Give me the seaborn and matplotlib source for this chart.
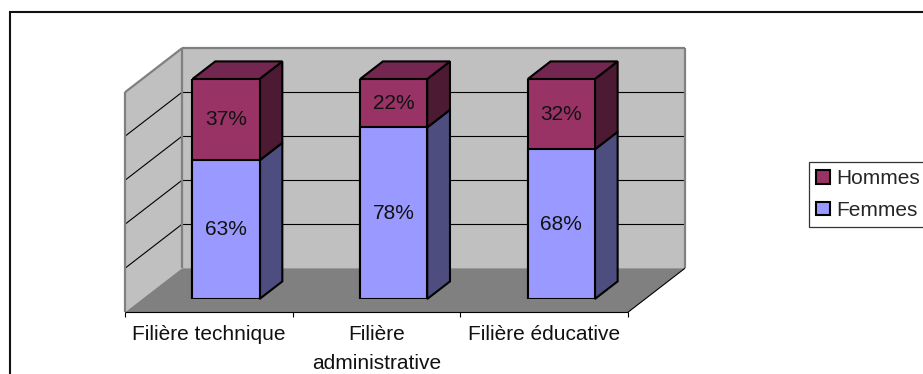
import matplotlib
matplotlib.use("Agg")
import matplotlib.pyplot as plt
import seaborn as sns
import pandas as pd
from matplotlib.patches import Polygon, Rectangle, Patch

# ---- data ----
categories = ["Filière technique", "Filière\nadministrative", "Filière éducative"]
femmes = [63, 78, 68]
hommes = [37, 22, 32]
series = ["Hommes", "Femmes"]
pct_fmt = "{:d}%"

# ---- styles ----
C_H_FRONT, C_H_TOP, C_H_SIDE = "#993366", "#732650", "#4D1A33"
C_F_FRONT, C_F_SIDE = "#9999FF", "#4D4D80"
WALL, FLOOR, WALL_EDGE = "#C0C0C0", "#808080", "#808080"

sns.set_theme(style="white")
plt.rcParams["font.family"] = ["Liberation Sans", "DejaVu Sans"]
FS = 15

W, H = 923, 374
fig = plt.figure(figsize=(W / 100, H / 100), dpi=100)
fig.patch.set_facecolor("white")

# axes = front plane of the bars
PX_PER_CAT = 167.65
ax = fig.add_axes([(226 - 0.5 * PX_PER_CAT) / W, (H - 299) / H, 3 * PX_PER_CAT / W, 220 / H])

df = pd.DataFrame({"cat": categories, "Femmes": femmes, "Hommes": hommes})
df["total"] = df["Femmes"] + df["Hommes"]

sns.barplot(data=df, x="cat", y="total", color=C_H_FRONT, saturation=1, width=0.4,
            edgecolor="black", linewidth=1.5, errorbar=None, ax=ax, zorder=6)
sns.barplot(data=df, x="cat", y="Femmes", color=C_F_FRONT, saturation=1, width=0.4,
            edgecolor="black", linewidth=1.5, errorbar=None, ax=ax, zorder=6)
ax.set_xlim(-0.5, 2.5)
ax.set_ylim(0, 100)
ax.axis("off")

# depth projection (data units per unit depth)
DX, DY = 0.34, 20.0
D0, D1 = -0.3, 0.7   # floor front / back wall depth relative to bar front
BD = 0.4             # bar depth


def P(x, y, d):
    return (x + d * DX, y + d * DY)


def poly(pts, fc, ec="none", lw=0, z=1):
    ax.add_patch(Polygon(pts, closed=True, facecolor=fc, edgecolor=ec, linewidth=lw,
                         zorder=z, clip_on=False, joinstyle="miter"))


def line(p, q, c, lw, z=2):
    ax.plot([p[0], q[0]], [p[1], q[1]], color=c, lw=lw, zorder=z, clip_on=False,
            solid_capstyle="butt")


xl, xr = -0.5, 2.5
# walls and floor
poly([P(xl, 0, D0), P(xl, 0, D1), P(xl, 100, D1), P(xl, 100, D0)], WALL)
poly([P(xl, 0, D1), P(xr, 0, D1), P(xr, 100, D1), P(xl, 100, D1)], WALL)
poly([P(xl, 0, D0), P(xr, 0, D0), P(xr, 0, D1), P(xl, 0, D1)], FLOOR)

for g in [20, 40, 60, 80]:
    line(P(xl, g, D1), P(xr, g, D1), "black", 0.8)
    line(P(xl, g, D0), P(xl, g, D1), "black", 0.8)

for p, q in [((xl, 0, D0), (xl, 100, D0)), ((xl, 100, D0), (xl, 100, D1)),
             ((xl, 100, D1), (xr, 100, D1)), ((xr, 100, D1), (xr, 0, D1)),
             ((xl, 0, D1), (xl, 100, D1))]:
    line(P(*p), P(*q), WALL_EDGE, 1.6, z=3)

line(P(xl, 0, D0), P(xr, 0, D0), "black", 0.8, z=3)
line(P(xr, 0, D0), P(xr, 0, D1), "black", 0.8, z=3)
for t in [-0.5, 0.5, 1.5, 2.5]:
    line(P(t, 0, D0), P(t, -2.0, D0), "black", 0.8, z=3)

# 3D faces for the bars
tot_patches = ax.patches[:3]
fem_patches = ax.patches[3:6]
for i in range(3):
    bt, bf = tot_patches[i], fem_patches[i]
    x0, w = bt.get_x(), bt.get_width()
    top, mid = bt.get_height(), bf.get_height()
    xr_ = x0 + w
    poly([(xr_, 0), P(xr_, 0, BD), P(xr_, mid, BD), (xr_, mid)], C_F_SIDE, "black", 1.5, z=5)
    poly([(xr_, mid), P(xr_, mid, BD), P(xr_, top, BD), (xr_, top)], C_H_SIDE, "black", 1.5, z=5)
    poly([(x0, top), (xr_, top), P(xr_, top, BD), P(x0, top, BD)], C_H_TOP, "black", 1.5, z=5)
    cx = x0 + w / 2
    ax.text(cx, mid / 2, pct_fmt.format(femmes[i]), ha="center", va="center",
            fontsize=FS, color="#111111", zorder=8)
    ax.text(cx, (mid + top) / 2, pct_fmt.format(hommes[i]), ha="center", va="center",
            fontsize=FS, color="#111111", zorder=8)

# category labels on the floor front edge
for i, c in enumerate(categories):
    x, _ = P(i, 0, D0)
    ax.text(x, -12.0, c, ha="center", va="top", fontsize=FS, linespacing=1.66,
            color="#111111", clip_on=False)

# legend
handles = [Patch(facecolor=C_H_FRONT, edgecolor="black", linewidth=1.5),
           Patch(facecolor=C_F_FRONT, edgecolor="black", linewidth=1.5)]
leg = fig.legend(handles, series, loc="upper left",
                 bbox_to_anchor=(809 / W, (H - 162) / H), bbox_transform=fig.transFigure,
                 fontsize=FS, frameon=True, fancybox=False, framealpha=1,
                 edgecolor="#333333", borderpad=0.35, labelspacing=0.6,
                 handlelength=0.65, handleheight=0.65, handletextpad=0.3, borderaxespad=0)
leg.get_frame().set_linewidth(0.9)

# outer chart border
fig.add_artist(Rectangle((10 / W, -0.2), 1.2, (H - 12) / H + 0.2, transform=fig.transFigure,
                         fill=False, edgecolor="#111111", linewidth=1.5, zorder=10))

fig.savefig("out.png", dpi=100, facecolor="white")
